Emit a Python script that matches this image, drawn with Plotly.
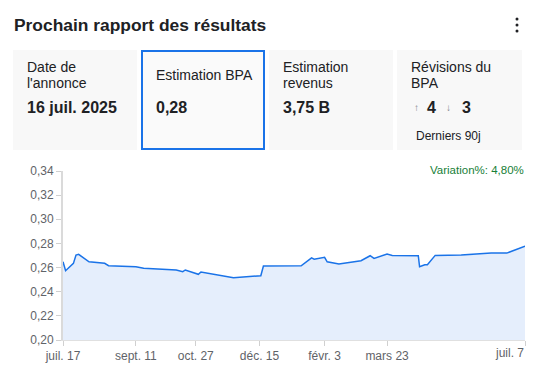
import plotly.graph_objects as go

# ---- data ----
dates = ["2024-07-17", "2024-07-19", "2024-07-25", "2024-07-27", "2024-07-29", "2024-08-06",
         "2024-08-18", "2024-08-21", "2024-09-11", "2024-09-17", "2024-10-12", "2024-10-17",
         "2024-10-19", "2024-10-29", "2024-10-31", "2024-11-15", "2024-11-25", "2024-12-16",
         "2024-12-18", "2025-01-16", "2025-01-24", "2025-01-26", "2025-02-03", "2025-02-05",
         "2025-02-14", "2025-03-03", "2025-03-10", "2025-03-13", "2025-03-23", "2025-03-27",
         "2025-04-16", "2025-04-17", "2025-04-21", "2025-04-23", "2025-04-29", "2025-05-19",
         "2025-06-11", "2025-06-23", "2025-07-07"]
eps_values = [0.2648, 0.2574, 0.2635, 0.2704, 0.2710, 0.2648,
              0.2635, 0.2615, 0.2607, 0.2594, 0.2580, 0.2566,
              0.2580, 0.2544, 0.2563, 0.2532, 0.2516, 0.2532,
              0.2613, 0.2615, 0.2680, 0.2670, 0.2685, 0.2648,
              0.2629, 0.2657, 0.2698, 0.2676, 0.2712, 0.2701,
              0.2698, 0.2607, 0.2623, 0.2623, 0.2701, 0.2704,
              0.2720, 0.2720, 0.2778]
tick_dates = ["2024-07-17", "2024-09-11", "2024-10-27", "2024-12-15", "2025-02-03", "2025-03-23", "2025-07-07"]
tick_labels = ["juil. 17", "sept. 11", "oct. 27", "déc. 15", "févr. 3", "mars 23", "juil. 7"]
y_ticks = [0.20, 0.22, 0.24, 0.26, 0.28, 0.30, 0.32, 0.34]

title = "Prochain rapport des résultats"
variation_text = "Variation%: 4,80%"

W, H = 538, 369
L, R, T, B = 63, 525, 171, 340
FONT = "Liberation Sans, Arial, sans-serif"
DARK = "#202124"
GRAY = "#5f6368"


def px(x):
    return (x - L) / (R - L)


def py(y):
    return (B - y) / (B - T)


fig = go.Figure()
fig.add_trace(go.Scatter(
    x=dates, y=eps_values, mode="lines",
    line=dict(color="#1a73e8", width=1.5),
    fill="tozeroy", fillcolor="#e5eefc",
    hoverinfo="skip",
))

shapes = []
annotations = []

# cards
cards = [(13, 137), (141, 265), (269, 393), (397, 522)]
for i, (x0, x1) in enumerate(cards):
    if i == 1:
        shapes.append(dict(type="rect", xref="paper", yref="paper",
                           x0=px(x0 + 1), x1=px(x1 - 1), y0=py(149), y1=py(51),
                           fillcolor="#fafafa", line=dict(color="#1a73e8", width=2), layer="below"))
    else:
        shapes.append(dict(type="rect", xref="paper", yref="paper",
                           x0=px(x0), x1=px(x1), y0=py(150), y1=py(50),
                           fillcolor="#f8f8f8", line=dict(width=0), layer="below"))

# menu dots
for yy in (19, 25, 31):
    shapes.append(dict(type="circle", xref="paper", yref="paper",
                       x0=px(515.5), x1=px(518.5), y0=py(yy + 1.5), y1=py(yy - 1.5),
                       fillcolor=DARK, line=dict(width=0)))


def text(x, y, s, size, color=DARK, bold=False, anchor="left"):
    if bold:
        s = "<b>" + s + "</b>"
    annotations.append(dict(xref="paper", yref="paper", x=px(x), y=py(y), text=s,
                            showarrow=False, xanchor=anchor, yanchor="middle",
                            font=dict(family=FONT, size=size, color=color), borderpad=0))


text(13, 25, title, 17.4, bold=True)

text(26, 67, "Date de", 14)
text(26, 83, "l'annonce", 14)
text(26, 107, "16 juil. 2025", 16, bold=True)

text(155, 75, "Estimation BPA", 14)
text(155, 107, "0,28", 16, bold=True)

text(282, 67, "Estimation", 14)
text(282, 83, "revenus", 14)
text(282, 107, "3,75 B", 16, bold=True)

text(410, 67, "Révisions du", 14)
text(410, 83, "BPA", 14)
text(413, 107, "↑", 10, color="#80868b")
text(426, 107, "4", 16, bold=True)
text(445, 107, "↓", 10, color="#80868b")
text(461, 107, "3", 16, bold=True)
text(415, 136, "Derniers 90j", 12)

text(525, 170, variation_text, 11.5, color="#188038", anchor="right")

# last x tick label is right-aligned to its tick (as in the reference)
axis_ticktext = tick_labels[:-1] + [""]
text(525, 353, tick_labels[-1], 12, color=GRAY, anchor="right")

fig.update_layout(
    width=W, height=H, autosize=False,
    margin=dict(l=L, r=W - R, t=T, b=H - B, pad=0, autoexpand=False),
    paper_bgcolor="white", plot_bgcolor="white",
    showlegend=False,
    separators=", ",
    font=dict(family=FONT, size=12, color=GRAY),
    shapes=shapes, annotations=annotations,
    xaxis=dict(type="date", range=["2024-07-17", "2025-07-07"],
               tickvals=tick_dates, ticktext=axis_ticktext, automargin=False,
               showgrid=False, zeroline=False,
               showline=True, linecolor="#e0e0e0", linewidth=1,
               ticks="outside", ticklen=5, tickcolor="#d0d0d0",
               tickfont=dict(family=FONT, size=12, color=GRAY)),
    yaxis=dict(range=[0.20, 0.34], tickvals=y_ticks, tickformat=".2f", automargin=False,
               showgrid=False, zeroline=False,
               showline=True, linecolor="#dadada", linewidth=2,
               ticks="outside", ticklen=5, tickcolor="#d0d0d0",
               tickfont=dict(family=FONT, size=12, color=GRAY)),
)

fig.write_html("out.html", config={"displayModeBar": False},
               post_script="document.body.style.margin='0';document.body.style.overflow='hidden';")
